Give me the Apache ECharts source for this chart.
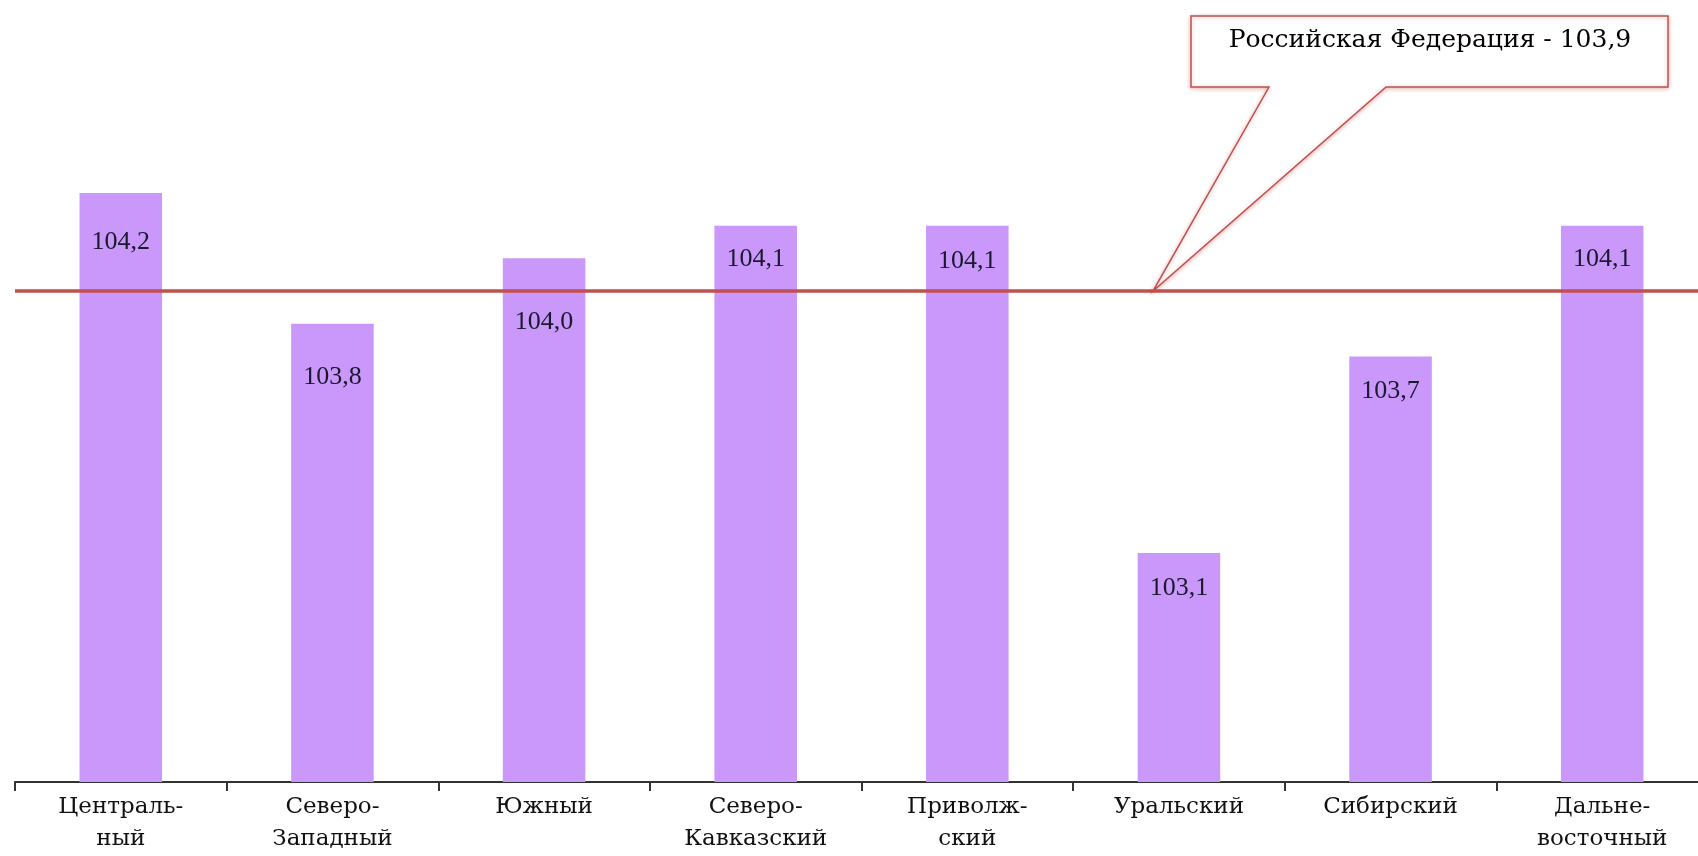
<!DOCTYPE html>
<html>
<head>
<meta charset="utf-8">
<style>
html,body{margin:0;padding:0;background:#fff;}
#main{width:1698px;height:856px;}
</style>
<script src="https://cdn.jsdelivr.net/npm/echarts@6/dist/echarts.min.js"></script>
</head>
<body>
<div id="main"></div>
<script>
// округа
var regions=['Централь-\nный','Северо-\nЗападный','Южный','Северо-\nКавказский','Приволж-\nский','Уральский','Сибирский','Дальне-\nвосточный'];
// индексы по округам
var values=[104.2,103.8,104.0,104.1,104.1,103.1,103.7,104.1];
// по РФ
var rfValue=103.9;
var rfLabel='Российская Федерация - 103,9';

var serif='"Liberation Serif",serif';
var wideSerif='"DejaVu Serif",serif';
// отступ подписи от верха столбика
var labelDist=[36,40,51,21,23,22,22,21];

var chart=echarts.init(document.getElementById('main'));

var barData=values.map(function(v,i){
    return {value:v,label:{distance:labelDist[i]}};
});

option={
    animation:false,
    grid:{left:15,width:1693,top:62,bottom:74,containLabel:false,outerBoundsMode:'none'},
    xAxis:{
        type:'category',
        data:regions,
        boundaryGap:true,
        axisLine:{lineStyle:{color:'#333',width:2}},
        axisTick:{show:true,length:9,lineStyle:{color:'#333',width:2}},
        axisLabel:{
            color:'#111',
            fontFamily:wideSerif,
            fontSize:23,
            lineHeight:32,
            margin:9,
            interval:0
        }
    },
    yAxis:{
        type:'value',
        min:102.4,
        max:104.6,
        show:false,
        splitLine:{show:false}
    },
    series:[
        {
            type:'bar',
            data:barData,
            barWidth:'39%',
            itemStyle:{color:'#ca97fb'},
            label:{
                show:true,
                position:'insideTop',
                color:'#1a1a2e',
                fontFamily:serif,
                fontSize:26,
                formatter:function(p){return p.value.toFixed(1).replace('.',',');}
            },
            markLine:{
                silent:true,
                symbol:'none',
                label:{show:false},
                lineStyle:{color:'#c0504d',width:3.5,type:'solid'},
                data:[{yAxis:rfValue}]
            }
        }
    ]
};
chart.setOption(option);

// выноска с подписью по РФ
var tipY=chart.convertToPixel({yAxisIndex:0},rfValue);
var tipX=1153;
chart.setOption({
    graphic:[
        {
            type:'polygon',
            z:10,
            shape:{points:[[1191,16],[1668,16],[1668,87],[1386,87],[tipX,tipY],[1269,87],[1191,87]]},
            style:{fill:'#fff',stroke:'#c0504d',lineWidth:1.5,shadowBlur:4,shadowColor:'rgba(192,80,77,0.4)',shadowOffsetY:1}
        },
        {
            type:'text',
            z:11,
            x:1430,
            y:28,
            style:{
                text:rfLabel,
                align:'center',
                fill:'#000',
                font:'25px '+wideSerif
            }
        }
    ]
});
</script>
</body>
</html>
